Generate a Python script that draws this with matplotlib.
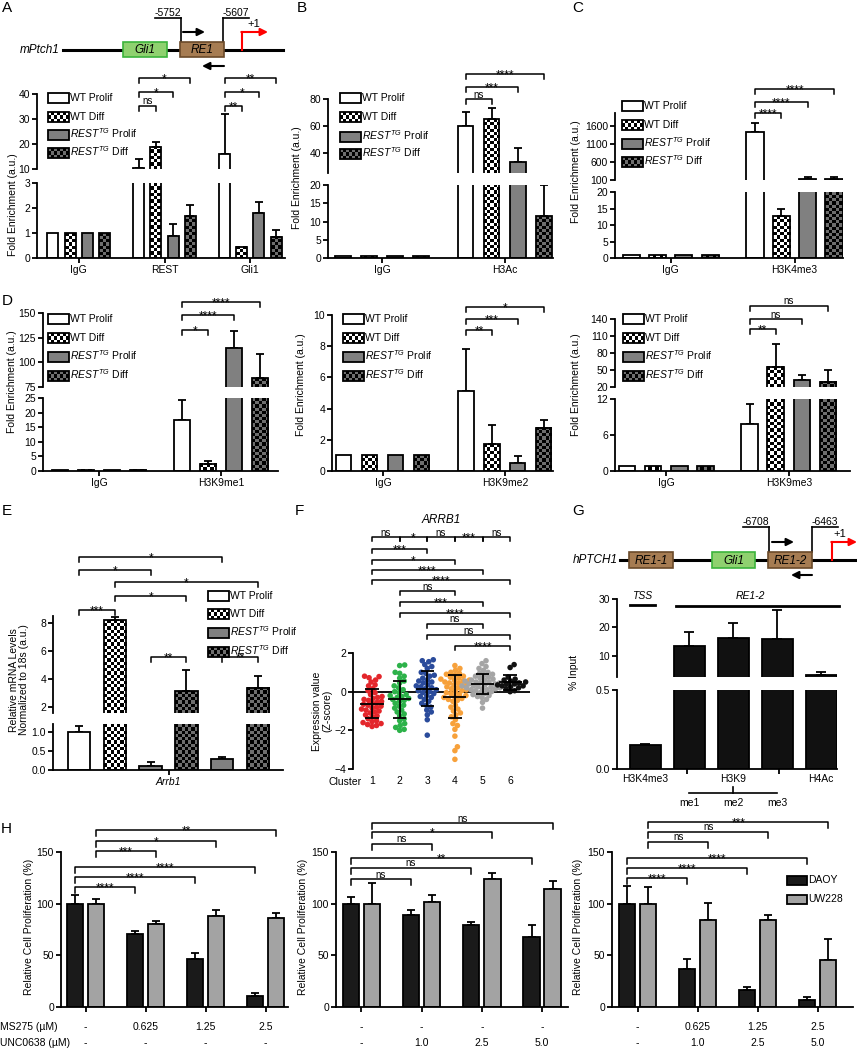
import numpy as np
import matplotlib
matplotlib.use('Agg')
import matplotlib.pyplot as plt
import matplotlib.transforms as mtransforms
from matplotlib.colors import ListedColormap
from matplotlib.patches import Rectangle

plt.rcParams['font.family'] = ['Liberation Sans', 'DejaVu Sans']
plt.rcParams['mathtext.fontset'] = 'custom'
plt.rcParams['mathtext.rm'] = 'Liberation Sans'
plt.rcParams['mathtext.it'] = 'Liberation Sans:italic'
plt.rcParams['mathtext.bf'] = 'Liberation Sans:bold'

# ---------------- data ----------------
series_names = ['WT Prolif', 'WT Diff',
                r'$\mathit{REST}^{\mathit{TG}}$ Prolif', r'$\mathit{REST}^{\mathit{TG}}$ Diff']

a_groups = ['IgG', 'REST', 'Gli1']
a_vals = [[1.0, 1.0, 1.0, 1.0], [10.5, 19.0, 0.9, 1.68], [16.0, 0.46, 1.81, 0.86]]
a_errs = [[0, 0, 0, 0], [3.5, 2.0, 0.46, 0.46], [16.0, 0, 0.44, 0.26]]
a_sig = [(1, 1, 'ns'), (1, 2, '*'), (1, 3, '*'), (2, 1, '**'), (2, 2, '*'), (2, 3, '**')]

b_groups = ['IgG', 'H3Ac']
b_vals = [[0.5, 0.5, 0.5, 0.5], [60.0, 65.0, 33.5, 11.5]]
b_errs = [[0, 0, 0, 0], [10.5, 8.0, 10.0, 8.5]]
b_sig = [(1, 1, 'ns'), (1, 2, '***'), (1, 3, '****')]

c_groups = ['IgG', 'H3K4me3']
c_vals = [[0.8, 0.8, 1.0, 0.8], [1440.0, 12.7, 127.0, 127.0]]
c_errs = [[0, 0, 0, 0], [250.0, 2.3, 45.0, 60.0]]
c_sig = [(1, 1, '****'), (1, 2, '****'), (1, 3, '****')]

d1_groups = ['IgG', 'H3K9me1']
d1_vals = [[0.5, 0.5, 0.5, 0.5], [17.3, 2.4, 115.0, 84.0]]
d1_errs = [[0, 0, 0, 0], [7.1, 1.0, 16.5, 24.0]]
d1_sig = [(1, 1, '*'), (1, 2, '****'), (1, 3, '****')]

d2_groups = ['IgG', 'H3K9me2']
d2_vals = [[1.0, 1.0, 1.0, 1.0], [5.1, 1.7, 0.5, 2.78]]
d2_errs = [[0, 0, 0, 0], [2.7, 1.22, 0.43, 0.5]]
d2_sig = [(1, 1, '**'), (1, 2, '***'), (1, 3, '*')]

d3_groups = ['IgG', 'H3K9me3']
d3_vals = [[0.8, 0.8, 0.8, 0.8], [7.8, 55.7, 33.0, 29.0]]
d3_errs = [[0, 0, 0, 0], [3.3, 40.0, 9.0, 21.0]]
d3_sig = [(1, 1, '**'), (1, 2, 'ns'), (1, 3, 'ns')]

e_gene = 'Arrb1'
e_vals = [1.0, 8.2, 0.1, 3.15, 0.3, 3.4]
e_errs = [0.14, 0.25, 0.1, 1.5, 0.04, 0.8]
e_kind = [0, 1, 2, 3, 2, 3]
e_sig = [(0, 4, '*'), (0, 2, '*'), (1, 5, '*'), (1, 3, '*'), (0, 1, '***'), (2, 3, '**'), (4, 5, '**')]

f_gene = 'ARRB1'
f_c1 = [0.8, 0.78, 0.72, 0.6, 0.5, 0.35, 0.3, 0.15, 0.05, -0.05, -0.15, -0.25, -0.35, -0.4,
        -0.5, -0.55, -0.6, -0.65, -0.7, -0.75, -0.8, -0.85, -0.9, -0.95, -1.0, -1.05, -1.1,
        -1.2, -1.25, -1.3, -1.4, -1.5, -1.55, -1.6, -1.65, -1.7, -1.75, -1.8, -0.45, -0.3]
f_c2 = [1.38, 1.35, 1.0, 0.95, 0.8, 0.7, 0.55, 0.45, 0.3, 0.2, 0.1, 0.0, -0.05, -0.15, -0.25,
        -0.3, -0.35, -0.45, -0.5, -0.6, -0.7, -0.75, -0.85, -0.95, -1.05, -1.15, -1.25, -1.4,
        -1.5, -1.65, -1.75, -1.85, -1.95, -2.0, -0.2, -0.4]
f_c3 = [1.65, 1.6, 1.55, 1.4, 1.3, 1.2, 1.0, 0.95, 0.8, 0.7, 0.6, 0.5, 0.45, 0.35, 0.3, 0.2,
        0.15, 0.1, 0.0, -0.05, -0.1, -0.2, -0.3, -0.4, -0.5, -0.6, -0.7, -0.8, -0.95, -1.05,
        -1.2, -1.45, -2.25, 0.25, 0.55, 0.05, -0.25, 0.85]
f_c4 = [1.35, 1.2, 1.1, 1.0, 0.95, 0.85, 0.8, 0.7, 0.65, 0.6, 0.5, 0.45, 0.4, 0.3, 0.25, 0.2,
        0.15, 0.1, 0.05, 0.0, -0.05, -0.1, -0.15, -0.2, -0.25, -0.3, -0.35, -0.4, -0.45, -0.5,
        0.6, 0.45, -0.7, -0.8, -0.9, -1.0, -1.1, -1.2, -1.3, -1.45, -1.65, -1.75, -1.95, -2.3,
        -2.85, -3.05, -3.5, 0.35, 0.75, 0.55, 0.9]
f_c5 = [1.6, 1.45, 1.3, 1.2, 1.1, 1.0, 0.95, 0.9, 0.85, 0.8, 0.75, 0.7, 0.65, 0.6, 0.55, 0.5,
        0.5, 0.45, 0.4, 0.4, 0.35, 0.3, 0.3, 0.25, 0.2, 0.2, 0.15, 0.1, 0.1, 0.05, 0.0, -0.05,
        -0.1, -0.15, -0.2, -0.25, -0.3, -0.4, -0.55, -0.85, 0.35, 0.25, 0.45, 0.15, 0.6]
f_c6 = [1.4, 1.25, 0.75, 0.65, 0.6, 0.55, 0.5, 0.45, 0.4, 0.35, 0.3, 0.25, 0.2, 0.15, 0.05,
        0.0, 0.3, 0.4]
f_clusters = [f_c1, f_c2, f_c3, f_c4, f_c5, f_c6]
f_colors = ['#e3262b', '#2db24a', '#2a4b9b', '#f7a13b', '#a5a5a5', '#111111']
f_sig = [(1, 2, 'ns'), (2, 3, '*'), (3, 4, 'ns'), (4, 5, '***'), (5, 6, 'ns'),
         (1, 3, '***'), (1, 4, '*'), (1, 5, '****'), (1, 6, '****'), (2, 4, 'ns'),
         (2, 5, '***'), (2, 6, '****'), (3, 5, 'ns'), (3, 6, 'ns'), (4, 6, '****')]

g_marks = ['H3K4me3', 'me1', 'me2', 'me3', 'H4Ac']
g_vals = [0.15, 13.4, 16.4, 15.8, 3.2]
g_errs = [0.01, 5.0, 5.0, 10.3, 1.1]

h_series = ['DAOY', 'UW228']
h1_daoy, h1_daoy_e = [100, 71, 46.8, 10.3], [8, 3, 5.3, 3.2]
h1_uw, h1_uw_e = [100, 80.3, 87.7, 85.8], [4.5, 3.2, 5.8, 5.2]
h2_daoy, h2_daoy_e = [100, 89.4, 79.7, 67.4], [6.4, 4.1, 2.6, 12.3]
h2_uw, h2_uw_e = [100, 101.3, 123.9, 114.5], [20, 7.4, 5.8, 7.8]
h3_daoy, h3_daoy_e = [100, 36.8, 16.8, 6.5], [16.8, 9.7, 2.6, 3.2]
h3_uw, h3_uw_e = [100, 83.9, 83.9, 45.8], [16, 16.7, 5.5, 20]
h1_ms, h1_unc = ['-', '0.625', '1.25', '2.5'], ['-', '-', '-', '-']
h2_ms, h2_unc = ['-', '-', '-', '-'], ['-', '1.0', '2.5', '5.0']
h3_ms, h3_unc = ['-', '0.625', '1.25', '2.5'], ['-', '1.0', '2.5', '5.0']
h1_sig = [('u', 3, '**'), ('u', 2, '*'), ('u', 1, '***'), ('d', 3, '****'), ('d', 2, '****'), ('d', 1, '****')]
h2_sig = [('u', 3, 'ns'), ('u', 2, '*'), ('u', 1, 'ns'), ('d', 3, '**'), ('d', 2, 'ns'), ('d', 1, 'ns')]
h3_sig = [('u', 3, '***'), ('u', 2, 'ns'), ('u', 1, 'ns'), ('d', 3, '****'), ('d', 2, '****'), ('d', 1, '****')]

# ---------------- layout / helpers ----------------
W, H = 857, 1050
LW = 1.3
FS = 7.5
fig = plt.figure(figsize=(W / 100, H / 100), dpi=100)

ov = fig.add_axes([0, 0, 1, 1], zorder=10)
ov.set_xlim(0, W)
ov.set_ylim(H, 0)
ov.axis('off')
ov.autoscale(False)

CHECK = {1: ('white', 'black'), 3: ('#6e6e6e', 'black')}
FILL = {0: 'white', 2: '#808080'}


def px_axes(l, t, r, b):
    ax = fig.add_axes([l / W, 1 - b / H, (r - l) / W, (b - t) / H])
    ax.patch.set_alpha(0)
    for s in ['top', 'right']:
        ax.spines[s].set_visible(False)
    for s in ['left', 'bottom']:
        ax.spines[s].set_linewidth(LW)
    ax.tick_params(direction='out', length=3.5, width=LW, labelsize=FS, pad=1.5)
    return ax


def set_lims(ax, xlim, ylim, yticks, ylabels=None):
    ax.set_xlim(*xlim)
    ax.set_ylim(*ylim)
    ax.autoscale(False)
    ax.set_yticks(yticks)
    if ylabels is not None:
        ax.set_yticklabels(ylabels)


def top_part(ax):
    ax.spines['bottom'].set_visible(False)
    ax.tick_params(axis='x', bottom=False, labelbottom=False)


def checker(ax, x0, x1, y0, y1, c1, c2, cell=3.2):
    lo, hi = ax.get_ylim()
    y0c, y1c = max(y0, lo), min(y1, hi)
    if y1c <= y0c:
        return
    p0 = ax.transData.transform((x0, y0c))
    p1 = ax.transData.transform((x1, y1c))
    nx = max(1, int(round(abs(p1[0] - p0[0]) / cell)))
    ny = max(1, int(round(abs(p1[1] - p0[1]) / cell)))
    arr = np.add.outer(np.arange(ny), np.arange(nx)) % 2
    ax.imshow(arr, extent=(x0, x1, y0c, y1c), cmap=ListedColormap([c1, c2]), vmin=0, vmax=1,
              interpolation='nearest', aspect='auto', origin='lower', zorder=1.5)


def draw_bar(ax, x, v, e, kind, width):
    if kind in CHECK:
        checker(ax, x - width / 2, x + width / 2, 0, v, *CHECK[kind])
        fc = 'none'
    else:
        fc = FILL[kind]
    ax.bar(x, v, width, color=fc, edgecolor='black', linewidth=LW, zorder=2)
    if e > 0:
        ax.errorbar(x, v, yerr=[[0], [e]], fmt='none', ecolor='black', elinewidth=LW,
                    capsize=3, capthick=LW, zorder=1.8)


def bracket(ax, x1, x2, y, label, drop=5):
    tr = mtransforms.blended_transform_factory(ax.transData, ov.transData)
    ax.plot([x1, x1, x2, x2], [y + drop, y, y, y + drop], color='black', lw=1.1,
            transform=tr, clip_on=False, zorder=5)
    if '*' in label:
        ax.text((x1 + x2) / 2, y + 4.3, label, transform=tr, ha='center', va='baseline',
                fontsize=8.5, clip_on=False)
    else:
        ax.text((x1 + x2) / 2, y - 1.5, label, transform=tr, ha='center', va='baseline',
                fontsize=7, clip_on=False)


def chip_panel(axes, groups, vals, errs, gap, width, sig, lv):
    xs = [[g * gap + k for k in range(4)] for g in range(len(groups))]
    for ax in axes:
        for g in range(len(groups)):
            for k in range(4):
                draw_bar(ax, xs[g][k], vals[g][k], errs[g][k], k, width)
    bot = axes[-1]
    bot.set_xticks([g * gap + 1.5 for g in range(len(groups))])
    bot.set_xticklabels(groups)
    for g, j, lab in sig:
        bracket(axes[0], xs[g][0], xs[g][j], lv[j], lab)


def ov_checker(x0, x1, y0, y1, c1, c2, cell=3.2):
    nx = max(1, int(round((x1 - x0) / cell)))
    ny = max(1, int(round((y1 - y0) / cell)))
    arr = np.add.outer(np.arange(ny), np.arange(nx)) % 2
    ov.imshow(arr, extent=(x0, x1, y1, y0), cmap=ListedColormap([c1, c2]), vmin=0, vmax=1,
              interpolation='nearest', aspect='auto', zorder=2.5)


def chip_legend(x, ys, w=21, h=10):
    for k, (y, name) in enumerate(zip(ys, series_names)):
        if k in CHECK:
            ov_checker(x, x + w, y - h / 2, y + h / 2, *CHECK[k])
            fc = 'none'
        else:
            fc = FILL[k]
        ov.add_patch(Rectangle((x, y - h / 2), w, h, facecolor=fc, edgecolor='black', lw=LW, zorder=3))
        ov.text(x + w + 1.5, y + 3.4, name, ha='left', va='baseline', fontsize=7.5)


def ylab(x, y, text):
    ov.text(x, y, text, rotation=90, ha='center', va='center', fontsize=FS, linespacing=1.1)


def letter(x, y, s):
    ov.text(x, y, s, ha='left', va='top', fontsize=11)


def gene_box(x0, x1, y0, y1, fc, ec, label):
    ov.add_patch(Rectangle((x0, y0), x1 - x0, y1 - y0, facecolor=fc, edgecolor=ec, lw=1.2, zorder=3))
    ov.text((x0 + x1) / 2, (y0 + y1) / 2 + 0.5, label, style='italic', ha='center', va='center',
            fontsize=8.5, zorder=4)


def arrow(x0, x1, y, color='black'):
    ov.annotate('', xy=(x1, y), xytext=(x0, y),
                arrowprops=dict(arrowstyle='-|>', color=color, lw=1.5, mutation_scale=11,
                                shrinkA=0, shrinkB=0))


def primer(xl, xr, xv, ytxt, yline, ybox, label):
    ov.plot([xl, xr], [yline, yline], color='black', lw=1.2)
    ov.plot([xv, xv], [yline, ybox], color='black', lw=1.2)
    ov.text((xl + xr) / 2, ytxt, label, ha='center', va='center', fontsize=7.5)


# ---------------- A ----------------
letter(2, 1, 'A')
ov.plot([63, 283], [50, 50], color='black', lw=2.2, zorder=2)
ov.text(60, 50, 'mPtch1', style='italic', ha='right', va='center', fontsize=8.5)
gene_box(123, 167, 42, 57, '#8fd16f', '#3cb43c', 'Gli1')
gene_box(180, 224, 42, 57, '#a67c52', '#6b4a2a', 'RE1')
ov.plot([242, 242], [50, 32], color='red', lw=1.5)
arrow(241.3, 268, 32, 'red')
ov.text(254, 24, '+1', ha='center', va='center', fontsize=8)
primer(155, 181, 181, 13, 18, 42, '-5752')
primer(223, 249, 223, 13, 18, 42, '-5607')
arrow(183, 205, 32)
arrow(224, 202, 66)

axA1 = px_axes(37, 94, 285, 169)
axA2 = px_axes(37, 183, 285, 258)
set_lims(axA1, (-0.93, 13.52), (10, 40), [10, 20, 30, 40])
set_lims(axA2, (-0.93, 13.52), (0, 3), [0, 1, 2, 3])
top_part(axA1)
chip_panel([axA1, axA2], a_groups, a_vals, a_errs, 5, 0.64, a_sig, {1: 106, 2: 92, 3: 78})
chip_legend(48, [98, 117, 135, 153])
ylab(13, 205, 'Fold Enrichment (a.u.)')

# ---------------- B ----------------
letter(297, 1, 'B')
axB1 = px_axes(328, 99, 553, 173)
axB2 = px_axes(328, 185, 553, 258)
set_lims(axB1, (-0.57, 8.05), (25, 80), [40, 60, 80])
set_lims(axB2, (-0.57, 8.05), (0, 20), [0, 5, 10, 15, 20])
top_part(axB1)
chip_panel([axB1, axB2], b_groups, b_vals, b_errs, 4.7, 0.6, b_sig, {1: 99, 2: 87, 3: 74})
chip_legend(340, [98, 117, 137, 154])
ylab(297, 178, 'Fold Enrichment (a.u.)')

# ---------------- C ----------------
letter(572, 1, 'C')
axC1 = px_axes(615, 113, 843, 180)
axC2 = px_axes(615, 192, 843, 258)
set_lims(axC1, (-0.61, 8.04), (100, 1975), [100, 600, 1100, 1600])
set_lims(axC2, (-0.61, 8.04), (0, 20), [0, 5, 10, 15, 20])
top_part(axC1)
chip_panel([axC1, axC2], c_groups, c_vals, c_errs, 4.7, 0.65, c_sig, {1: 113, 2: 102, 3: 89})
chip_legend(622, [106, 125, 144, 162])
ylab(576, 172, 'Fold Enrichment (a.u.)')

# ---------------- D ----------------
letter(2, 294, 'D')
axD1a = px_axes(43, 313, 278, 387)
axD1b = px_axes(43, 398, 278, 471)
set_lims(axD1a, (-0.65, 8.39), (75, 150), [75, 100, 125, 150])
set_lims(axD1b, (-0.65, 8.39), (0, 25), [0, 5, 10, 15, 20, 25])
top_part(axD1a)
chip_panel([axD1a, axD1b], d1_groups, d1_vals, d1_errs, 4.7, 0.64, d1_sig, {1: 330, 2: 315, 3: 302})
chip_legend(48, [319, 338, 357, 376])
ylab(12, 382, 'Fold Enrichment (a.u.)')

axD2 = px_axes(332, 315, 553, 471)
set_lims(axD2, (-0.46, 8.05), (0, 10), [0, 2, 4, 6, 8, 10])
chip_panel([axD2], d2_groups, d2_vals, d2_errs, 4.7, 0.58, d2_sig, {1: 330, 2: 319, 3: 307})
chip_legend(343, [319, 338, 357, 376])
ylab(301, 385, 'Fold Enrichment (a.u.)')

axD3a = px_axes(615, 319, 850, 387)
axD3b = px_axes(615, 399, 850, 471)
set_lims(axD3a, (-0.46, 8.54), (20, 140), [20, 50, 80, 110, 140])
set_lims(axD3b, (-0.46, 8.54), (0, 12), [0, 6, 12])
top_part(axD3a)
chip_panel([axD3a, axD3b], d3_groups, d3_vals, d3_errs, 4.7, 0.64, d3_sig, {1: 329, 2: 319, 3: 306})
chip_legend(623, [319, 338, 357, 376])
ylab(576, 385, 'Fold Enrichment (a.u.)')

# ---------------- E ----------------
letter(2, 504, 'E')
axE1 = px_axes(53, 616, 283, 713)
axE2 = px_axes(53, 724, 283, 770)
set_lims(axE1, (-0.73, 5.7), (1.6, 8.5), [2, 4, 6, 8])
set_lims(axE2, (-0.73, 5.7), (0, 1.2), [0, 0.5, 1.0], ['0.0', '0.5', '1.0'])
top_part(axE1)
for ax in (axE1, axE2):
    for i, (v, e, k) in enumerate(zip(e_vals, e_errs, e_kind)):
        draw_bar(ax, i, v, e, k, 0.63)
axE2.set_xticks([2.5])
axE2.set_xticklabels([e_gene], style='italic')
for (i, j, lab), y in zip(e_sig, [557, 570, 582, 596, 610, 657, 657]):
    bracket(axE1, i, j, y, lab)
chip_legend(208, [596, 614, 633, 652])
ylab(19, 680, 'Relative mRNA Levels\nNormalized to 18s (a.u.)')

# ---------------- F ----------------
letter(295, 504, 'F')
axF = px_axes(353, 653, 530, 769)
set_lims(axF, (0.31, 6.72), (-4, 2), [-4, -2, 0, 2])
axF.spines['bottom'].set_visible(False)
axF.set_xticks(range(1, 7))
axF.tick_params(axis='x', length=0, pad=5)
axF.axhline(0, color='black', lw=LW, zorder=2)


def swarm_x(ax, xc, vals, d=4.6):
    t = ax.transData
    sx = t.transform((1, 0))[0] - t.transform((0, 0))[0]
    sy = t.transform((0, 1))[1] - t.transform((0, 0))[1]
    ys = np.asarray(vals, float) * sy
    offs = np.zeros(len(ys))
    done = []
    cands = [0.0] + [s * k * 0.5 for k in range(1, 80) for s in (1, -1)]
    for i in np.argsort(ys):
        for o in cands:
            if all((o - ox) ** 2 + (ys[i] - oy) ** 2 >= d * d for ox, oy in done):
                break
        offs[i] = o
        done.append((o, ys[i]))
    return xc + offs / sx


for i, (vals, col) in enumerate(zip(f_clusters, f_colors)):
    xc = i + 1
    axF.scatter(swarm_x(axF, xc, vals), vals, s=16, color=col, edgecolors='none', zorder=3)
    m, sd = np.mean(vals), np.std(vals, ddof=1)
    axF.hlines(m, xc - 0.42, xc + 0.42, color='black', lw=LW, zorder=4)
    axF.vlines(xc, m - sd, m + sd, color='black', lw=LW, zorder=4)
    axF.hlines([m - sd, m + sd], xc - 0.24, xc + 0.24, color='black', lw=LW, zorder=4)
for (i, j, lab), y in zip(f_sig, [537] * 5 + [549, 560, 570, 580, 591, 602, 613, 624, 635, 646]):
    bracket(axF, i, j, y, lab, drop=4)
ov.text(441, 520, f_gene, style='italic', ha='center', va='center', fontsize=8.5)
ov.text(345, 782, 'Cluster', ha='center', va='center', fontsize=FS)
ov.text(322, 711, 'Expression value\n(Z-score)', rotation=90, ha='center', va='center',
        fontsize=FS, linespacing=1.1)

# ---------------- G ----------------
letter(572, 504, 'G')
ov.plot([620, 857], [560, 560], color='black', lw=2.2, zorder=2)
ov.text(618, 560, 'hPTCH1', style='italic', ha='right', va='center', fontsize=8.5)
gene_box(629, 673, 552, 568, '#a67c52', '#6b4a2a', 'RE1-1')
gene_box(712, 755, 552, 568, '#8fd16f', '#3cb43c', 'Gli1')
gene_box(768, 812, 552, 568, '#a67c52', '#6b4a2a', 'RE1-2')
ov.plot([832, 832], [560, 542], color='red', lw=1.5)
arrow(831.3, 857, 542, 'red')
ov.text(840, 534, '+1', ha='center', va='center', fontsize=8)
primer(743, 769, 769, 522, 527, 552, '-6708')
primer(812, 838, 812, 522, 527, 552, '-6463')
arrow(772, 794, 542)
arrow(812, 791, 575)

axG1 = px_axes(617, 599, 837, 677)
axG2 = px_axes(617, 690, 837, 769)
set_lims(axG1, (-0.64, 4.36), (2.6, 30), [10, 20, 30])
set_lims(axG2, (-0.64, 4.36), (0, 0.5), [0, 0.5], ['0.0', '0.5'])
top_part(axG1)
for ax in (axG1, axG2):
    ax.bar(range(len(g_vals)), g_vals, 0.7, color='#111111', edgecolor='black', lw=LW, zorder=2)
    ax.errorbar(range(len(g_vals)), g_vals, yerr=[np.zeros(len(g_errs)), g_errs], fmt='none',
                ecolor='black', elinewidth=LW, capsize=3.5, capthick=LW, zorder=1.8)
axG2.set_xticks([0.95, 3.05])
axG2.set_xticklabels([])
trG = mtransforms.blended_transform_factory(axG2.transData, ov.transData)
axG2.text(0, 779, g_marks[0], transform=trG, ha='center', va='center', fontsize=FS)
axG2.text(2, 779, 'H3K9', transform=trG, ha='center', va='center', fontsize=FS)
axG2.text(4, 779, g_marks[4], transform=trG, ha='center', va='center', fontsize=FS)
axG2.plot([1, 3], [793, 793], transform=trG, color='black', lw=1.2, clip_on=False)
axG2.plot([2, 2], [793, 787], transform=trG, color='black', lw=1.2, clip_on=False)
for i in (1, 2, 3):
    axG2.text(i, 803, g_marks[i], transform=trG, ha='center', va='center', fontsize=FS)
trG1 = mtransforms.blended_transform_factory(axG1.transData, ov.transData)
axG1.plot([-0.35, 0.22], [605, 605], transform=trG1, color='black', lw=2, clip_on=False)
axG1.plot([0.7, 4.4], [606, 606], transform=trG1, color='black', lw=2, clip_on=False)
axG1.text(-0.07, 596, 'TSS', transform=trG1, style='italic', ha='center', va='center', fontsize=FS)
axG1.text(2.4, 596, 'RE1-2', transform=trG1, style='italic', ha='center', va='center', fontsize=FS)
ylab(574, 672, '% Input')

# ---------------- H ----------------
letter(1, 822, 'H')


def prolif_panel(ax, daoy, daoy_e, uw, uw_e, ms, unc, sig, sig_y):
    x = np.arange(len(daoy))
    off = 0.175
    ax.bar(x - off, daoy, 0.27, color='#1a1a1a', edgecolor='black', lw=LW, zorder=2)
    ax.bar(x + off, uw, 0.27, color='#a3a3a3', edgecolor='black', lw=LW, zorder=2)
    ax.errorbar(x - off, daoy, yerr=[np.zeros(len(daoy)), daoy_e], fmt='none', ecolor='black',
                elinewidth=LW, capsize=3, capthick=LW, zorder=1.8)
    ax.errorbar(x + off, uw, yerr=[np.zeros(len(uw)), uw_e], fmt='none', ecolor='black',
                elinewidth=LW, capsize=3, capthick=LW, zorder=1.8)
    ax.set_xticks(x)
    ax.set_xticklabels([])
    tr = mtransforms.blended_transform_factory(ax.transData, ov.transData)
    for i in x:
        ax.text(i, 1027, ms[i], transform=tr, ha='center', va='center', fontsize=FS)
        ax.text(i, 1043, unc[i], transform=tr, ha='center', va='center', fontsize=FS)
    for (s, j, lab), y in zip(sig, sig_y):
        o = off if s == 'u' else -off
        bracket(ax, o, j + o, y, lab, drop=6)


axH1 = px_axes(61, 852, 288, 1007)
set_lims(axH1, (-0.41, 3.37), (0, 150), [0, 50, 100, 150])
prolif_panel(axH1, h1_daoy, h1_daoy_e, h1_uw, h1_uw_e, h1_ms, h1_unc, h1_sig,
             [830, 841, 851, 867, 877, 887])
ov.text(0, 1027, 'MS275 (µM)', ha='left', va='center', fontsize=FS)
ov.text(0, 1043, 'UNC0638 (µM)', ha='left', va='center', fontsize=FS)
ylab(29, 927, 'Relative Cell Proliferation (%)')

axH2 = px_axes(336, 852, 568, 1007)
set_lims(axH2, (-0.42, 3.43), (0, 150), [0, 50, 100, 150])
prolif_panel(axH2, h2_daoy, h2_daoy_e, h2_uw, h2_uw_e, h2_ms, h2_unc, h2_sig,
             [823, 832, 844, 858, 868, 879])
ylab(303, 927, 'Relative Cell Proliferation (%)')

axH3 = px_axes(612, 852, 853, 1007)
set_lims(axH3, (-0.43, 3.59), (0, 150), [0, 50, 100, 150])
prolif_panel(axH3, h3_daoy, h3_daoy_e, h3_uw, h3_uw_e, h3_ms, h3_unc, h3_sig,
             [822, 832, 842, 858, 868, 878])
ylab(578, 927, 'Relative Cell Proliferation (%)')
for y, c, name in zip([880, 899], ['#1a1a1a', '#a3a3a3'], h_series):
    ov.add_patch(Rectangle((787, y - 4.5), 20, 9, facecolor=c, edgecolor='black', lw=LW, zorder=3))
    ov.text(808.5, y + 3.2, name, ha='left', va='baseline', fontsize=FS)

fig.savefig('out.png', dpi=100)
